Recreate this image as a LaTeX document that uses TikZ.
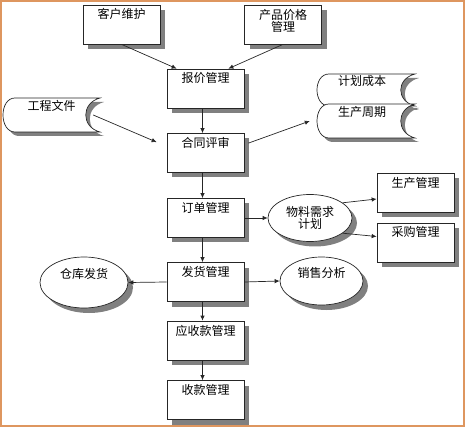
\documentclass[tikz,border=0pt]{standalone}
\usepackage{fontspec}
\setmainfont{Noto Sans CJK SC}
\usepackage{tikz}
\usetikzlibrary{shapes.geometric,shadows,arrows.meta}
\definecolor{framec}{RGB}{222,150,95}
\definecolor{shadowc}{RGB}{128,128,128}

% stored data outline: x0, y0, x1, y1 (pixel units, y down)
\newcommand{\sdpath}[4]{(#1+12,#2) -- (#3,#2) .. controls (#3-19,#2+5) and (#3-19,#4-5) .. (#3,#4) -- (#1+12,#4) .. controls (#1-4,#4) and (#1-4,#2) .. (#1+12,#2) -- cycle}
\newcommand{\sdata}[4]{%
  \fill[shadowc, shift={(4,4)}] \sdpath{#1}{#2}{#3}{#4};
  \draw[line, fill=white] \sdpath{#1}{#2}{#3}{#4};}

\begin{document}
\begin{tikzpicture}[
  x=1pt, y=-1pt,
  line/.style={draw=black!85, line width=0.7pt},
  shad/.style={drop shadow={shadow xshift=5pt, shadow yshift=-5pt, fill=shadowc, opacity=1}},
  box/.style={rectangle, line, fill=white, shad, minimum width=77pt,
    minimum height=39pt, inner sep=0pt, font={\fontsize{12}{13}\selectfont}},
  toptext/.style={text height=10pt, text depth=21pt},
  oval/.style={ellipse, line, fill=white, shad, inner sep=0pt,
    font={\fontsize{12}{13}\selectfont}},
  sdtext/.style={minimum width=90pt, minimum height=34pt, inner sep=0pt,
    text height=10pt, text depth=18pt, font={\fontsize{12}{13}\selectfont}},
  arr/.style={-{Latex[length=5pt,width=4.5pt]}, draw=black!85, line width=0.7pt}
]
\useasboundingbox (0,0) rectangle (465,427);

\node[box, toptext] (khwh) at (121.5,24.5) {客户维护};
\node[box, align=center, font={\fontsize{12}{12}\selectfont}, text depth=8.5pt] (cpjg) at (283,24.5) {产品价格\\管理};
\node[box, toptext] (bjgl) at (205.5,88.5) {报价管理};
\node[box, toptext] (htps) at (205.5,153) {合同评审};
\node[box, toptext] (ddgl) at (205.5,218) {订单管理};
\node[box, toptext] (fhgl) at (205.5,282) {发货管理};
\node[box, toptext] (yskgl) at (205.5,340.5) {应收款管理};
\node[box, toptext] (skgl) at (205.5,400) {收款管理};
\node[box, toptext] (scgl) at (415.5,193) {生产管理};
\node[box, toptext] (cggl) at (415.5,242.5) {采购管理};

\node[oval, minimum width=84pt, minimum height=47pt, align=center, font={\fontsize{12}{12}\selectfont}] (wlxq) at (310,218) {物料需求\\计划};
\node[oval, minimum width=88pt, minimum height=51pt, text height=10pt, text depth=18pt] (ckfh) at (84,282.5) {仓库发货};
\node[oval, minimum width=83pt, minimum height=48pt, text height=10pt, text depth=18pt] (xsfx) at (321.5,281) {销售分析};

\sdata{3}{98}{100}{132}
\node[sdtext, minimum width=97pt] (gcwj) at (51.5,115) {工程文件};
\sdata{317}{74}{415}{106}
\node[sdtext, minimum height=32pt] (jhcb) at (362,90) {计划成本};
\sdata{317}{104}{415}{138}
\node[sdtext] (sczq) at (362,121) {生产周期};

\draw[arr] (khwh.south) -- ([xshift=10pt]bjgl.north west);
\draw[arr] (cpjg.south) -- ([xshift=-16pt]bjgl.north east);
\foreach \a/\b in {bjgl/htps, htps/ddgl, ddgl/fhgl, fhgl/yskgl, yskgl/skgl}
  \draw[arr] ([xshift=-3pt]\a.south) -- ([xshift=-3pt]\b.north);
\draw[arr] ([xshift=-7pt]gcwj.east) -- ([xshift=-10pt,yshift=-9pt]htps.north west);
\draw[arr] ([xshift=4pt,yshift=-10pt]htps.north east) -- ([xshift=-7pt]sczq.west);
\draw[arr] (ddgl.east) -- (wlxq.west);
\draw[arr] (wlxq.25) -- ([yshift=-6pt]scgl.west);
\draw[arr] (wlxq.-25) -- ([yshift=6pt]cggl.west);
\draw[arr] (fhgl.west) -- (ckfh.east);
\draw[arr] (fhgl.east) -- (xsfx.west);

\draw[framec, line width=1.5pt] (1,1) rectangle (464,426);
\end{tikzpicture}
\end{document}
